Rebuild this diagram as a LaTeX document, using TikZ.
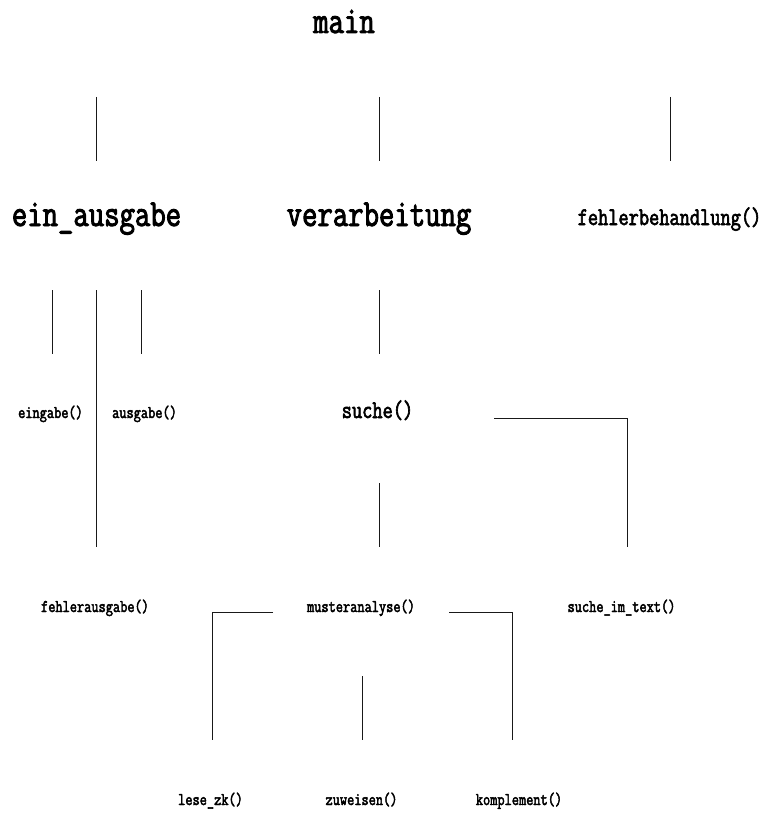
\documentclass[tikz,border=0pt]{standalone}
\usepackage{fontspec}
\newfontfamily\cmono[FakeStretch=0.78,FakeBold=2.5]{Latin Modern Mono}
\begin{document}
\begin{tikzpicture}[x=1pt,y=-1pt,
  lbl/.style={anchor=base,inner sep=0pt,font=\cmono},
  big/.style={lbl,font=\cmono\fontsize{38.3}{38.3}\selectfont},
  mid/.style={lbl,font=\cmono\fontsize{25.4}{25.4}\selectfont},
  small/.style={lbl,font=\cmono\fontsize{17.9}{17.9}\selectfont},
  conn/.style={draw,line width=0.9pt,black!90}]
\useasboundingbox (0,0) rectangle (766,813);
% labels
\node[big] (main) at (344,33) {main};
\node[big] (ea) at (96.5,226) {ein\_ausgabe};
\node[big] (ver) at (379,226) {verarbeitung};
\node[mid] (feh) at (669.5,225) {fehlerbehandlung()};
\node[small] (ein) at (50.5,418) {eingabe()};
\node[small] (aus) at (144.5,418) {ausgabe()};
\node[mid] (such) at (377.5,418) {suche()};
\node[small] (fa) at (95,612) {fehlerausgabe()};
\node[small] (mus) at (361,612) {musteranalyse()};
\node[small] (sit) at (621.5,612) {suche\_im\_text()};
\node[small] (lz) at (210.5,805) {lese\_zk()};
\node[small] (zu) at (361.5,805) {zuweisen()};
\node[small] (ko) at (519,805) {komplement()};
% connector end points
\coordinate (a1) at (96,97);  \coordinate (a2) at (96,161);
\coordinate (b1) at (379,97); \coordinate (b2) at (379,161);
\coordinate (c1) at (670,97); \coordinate (c2) at (670,161);
\coordinate (d1) at (52,290); \coordinate (d2) at (52,354);
\coordinate (e1) at (96,290); \coordinate (e2) at (96,547);
\coordinate (f1) at (141,290); \coordinate (f2) at (141,354);
\coordinate (g1) at (379,290); \coordinate (g2) at (379,354);
\coordinate (h1) at (494,418); \coordinate (h2) at (627,418); \coordinate (h3) at (627,547);
\coordinate (i1) at (379,483); \coordinate (i2) at (379,547);
\coordinate (j1) at (273,612); \coordinate (j2) at (212,612); \coordinate (j3) at (212,740);
\coordinate (k1) at (449,612); \coordinate (k2) at (512,612); \coordinate (k3) at (512,740);
\coordinate (l1) at (362,676); \coordinate (l2) at (362,740);
% connectors
\path[conn] (a1) -- (a2);
\path[conn] (b1) -- (b2);
\path[conn] (c1) -- (c2);
\path[conn] (d1) -- (d2);
\path[conn] (e1) -- (e2);
\path[conn] (f1) -- (f2);
\path[conn] (g1) -- (g2);
\path[conn] (h1) -- (h2) -- (h3);
\path[conn] (i1) -- (i2);
\path[conn] (j1) -- (j2) -- (j3);
\path[conn] (k1) -- (k2) -- (k3);
\path[conn] (l1) -- (l2);
\end{tikzpicture}
\end{document}
